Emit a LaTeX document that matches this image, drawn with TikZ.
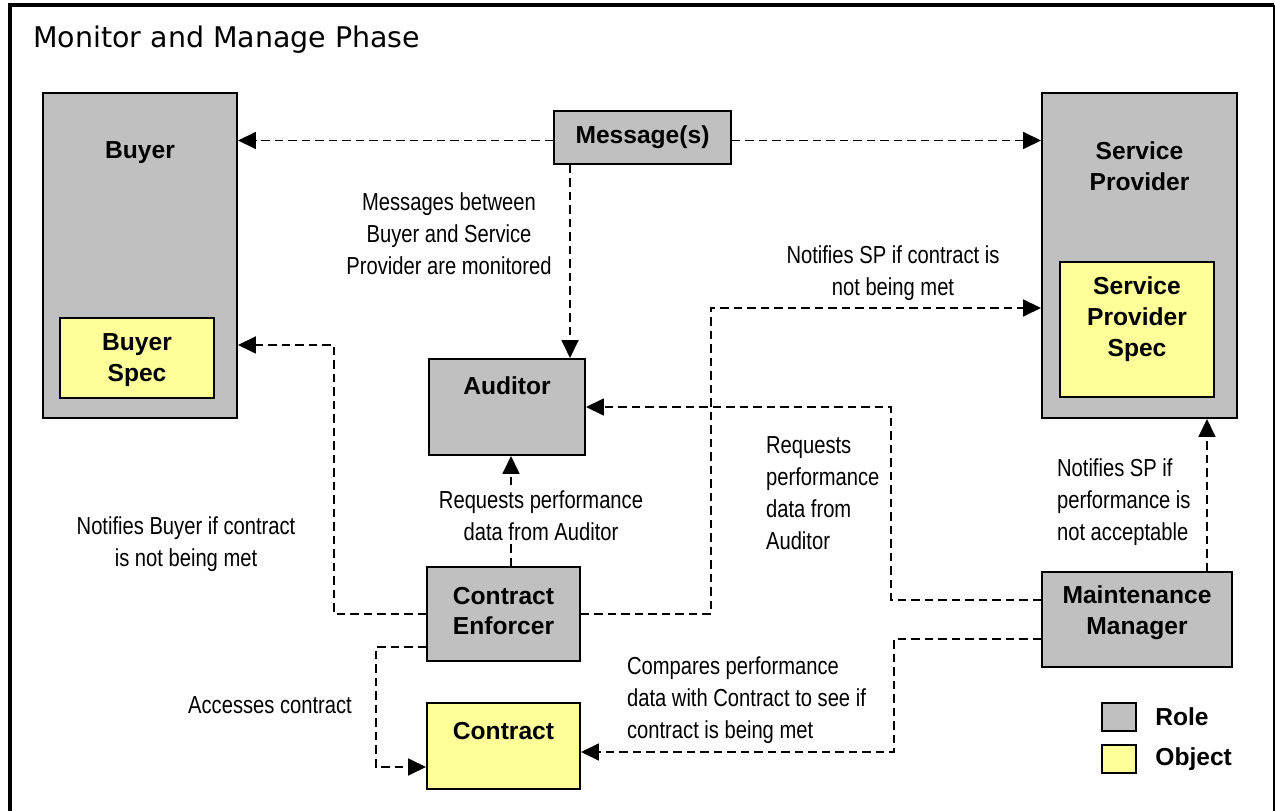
\documentclass[tikz,border=0pt]{standalone}
\usepackage{fontspec}
\setmainfont{Liberation Sans}
\newfontfamily\narrowfont{Liberation Sans}[FakeStretch=0.82]
\newfontfamily\titlefont{DejaVu Sans}
\usetikzlibrary{arrows.meta}
\definecolor{rolegray}{HTML}{C0C0C0}
\definecolor{objyellow}{HTML}{FFFF99}

\begin{document}
\begin{tikzpicture}[x=0.02cm,y=-0.02cm,
    role/.style={draw,fill=rolegray,line width=0.04cm,inner sep=0pt},
    obj/.style={draw,fill=objyellow,line width=0.04cm,inner sep=0pt},
    boxtext/.style={font=\fontsize{14}{17.6}\selectfont\bfseries,align=center,inner sep=0pt},
    lbl/.style={font=\narrowfont\fontsize{14}{18.2}\selectfont,align=center,inner sep=1pt},
    flow/.style={dash pattern=on 0.17cm off 0.1cm,line width=0.036cm,
      -{Triangle[length=0.36cm,width=0.34cm]}}]
  \useasboundingbox (0,0) rectangle (1275,811);

  % frame and title
  \draw[line width=0.08cm] (10,811) -- (10,5) -- (1274,5);
  \draw[line width=0.03cm] (1274,5) -- (1274,811);
  \node[anchor=base west,inner sep=0pt,font=\titlefont\fontsize{16.2}{18}\selectfont] (title) at (33,48) {Monitor and Manage Phase};

  % roles and objects
  \node[role,minimum width=3.88cm,minimum height=6.5cm] (buyer) at (140,255.5) {};
  \node[boxtext] (buyertxt) at (140,153) {Buyer};
  \node[obj,minimum width=3.08cm,minimum height=1.6cm] (buyerspec) at (137,358) {};
  \node[boxtext] (buyerspectxt) at (137,360) {Buyer\\Spec};

  \node[role,minimum width=3.54cm,minimum height=1.06cm,boxtext] (msg) at (642.5,137.5) {Message(s)};

  \node[role,minimum width=3.9cm,minimum height=6.5cm] (sp) at (1139.5,255.5) {};
  \node[boxtext] (sptxt) at (1139.5,166.5) {Service\\Provider};
  \node[obj,minimum width=3.08cm,minimum height=2.7cm] (spspec) at (1137,329.5) {};
  \node[boxtext] (spspectxt) at (1137,319) {Service\\Provider\\Spec};

  \node[role,minimum width=3.12cm,minimum height=1.92cm] (auditor) at (507,407) {};
  \node[boxtext] (auditortxt) at (507,386) {Auditor};

  \node[role,minimum width=3.06cm,minimum height=1.88cm] (ce) at (503.5,614) {};
  \node[boxtext] (cetxt) at (503.5,611) {Contract\\Enforcer};

  \node[obj,minimum width=3.06cm,minimum height=1.72cm] (contract) at (503.5,746) {};
  \node[boxtext] (contracttxt) at (503.5,731) {Contract};

  \node[role,minimum width=3.8cm,minimum height=1.9cm] (mm) at (1137,619.5) {};
  \node[boxtext] (mmtxt) at (1137,613) {Maintenance\\Manager};

  % legend
  \node[role,minimum width=0.68cm,minimum height=0.56cm] (keyrole) at (1119,717) {};
  \node[boxtext,anchor=west] (keyroletxt) at (1155,717) {Role};
  \node[obj,minimum width=0.68cm,minimum height=0.56cm] (keyobj) at (1119,759) {};
  \node[boxtext,anchor=west] (keyobjtxt) at (1155,759) {Object};

  % message flows
  \draw[flow] ([yshift=-0.06cm]msg.west) -- ([yshift=-0.06cm]msg.west -| buyer.east);
  \draw[flow] ([yshift=-0.06cm]msg.east) -- ([yshift=-0.06cm]msg.east -| sp.west);
  \draw[flow] ([xshift=0.34cm]msg.south west) -- ([xshift=0.34cm]msg.south west |- auditor.north);
  \node[lbl] (lblmsg) at (449,234) {Messages between\\Buyer and Service\\Provider are monitored};

  % contract enforcer
  \draw[flow] (ce.west) -- ++(-92,0) |- ([yshift=-1.79cm]buyer.east);
  \node[lbl] (lblbuyer) at (186,544) {Notifies Buyer if contract\\is not being met};
  \draw[flow] ([xshift=0.15cm]ce.north) -- ([xshift=0.15cm]ce.north |- auditor.south);
  \node[lbl,fill=white] (lblreq) at (541,516) {Requests performance\\data from Auditor};
  \draw[flow] (ce.east) -- ++(130,0) |- ([yshift=-1.05cm]sp.west);
  \node[lbl] (lblsp) at (893,273) {Notifies SP if contract is\\not being met};
  \draw[flow] ([yshift=-0.66cm]ce.west) -- ++(-50,0) |- ([yshift=-0.42cm]contract.west);
  \node[lbl] (lblacc) at (270,705) {Accesses contract};

  % maintenance manager
  \draw[flow] ([yshift=0.39cm]mm.west) -- ++(-150,0) |- (auditor.east);
  \node[lbl,align=left,anchor=west] (lblaud) at (764,493) {Requests\\performance\\data from\\Auditor};
  \draw[flow] ([xshift=1.4cm]mm.north) -- ([xshift=1.4cm]mm.north |- sp.south);
  \node[lbl,align=left,anchor=west] (lblmm) at (1055,502) {Notifies SP if\\performance is\\not acceptable};
  \draw[flow] ([yshift=-0.39cm]mm.west) -- ++(-147,0) |- ([yshift=-0.12cm]contract.east);
  \node[lbl,align=left,anchor=west] (lblcmp) at (625,700) {Compares performance\\data with Contract to see if\\contract is being met};
\end{tikzpicture}
\end{document}
